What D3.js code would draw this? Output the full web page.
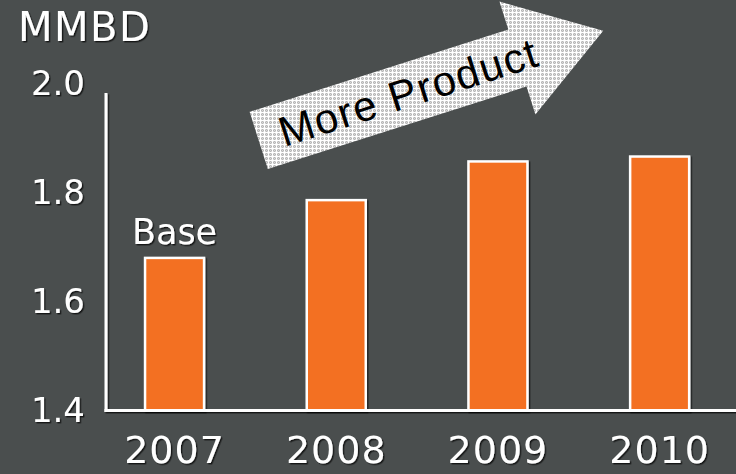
<!DOCTYPE html>
<html>
<head>
<meta charset="utf-8">
<script src="https://cdn.jsdelivr.net/npm/d3@7"></script>
<style>
  html, body { margin: 0; padding: 0; background: #4a4e4e; }
  svg { display: block; }
</style>
</head>
<body>
<script>
// Refinery output by year (million barrels per day)
const years = ["2007", "2008", "2009", "2010"];
const output = [1.68, 1.786, 1.857, 1.866];
const yTicks = [1.4, 1.6, 1.8, 2.0];
const yDomain = [1.4, 2.0];
const unitLabel = "MMBD";
const baseLabel = "Base";
const arrowLabel = "More Product";

const W = 736, H = 474;
const bg = "#4a4e4e", orange = "#f37021";
const font = "'DejaVu Sans', Verdana, sans-serif";

const svg = d3.select("body").append("svg")
  .attr("width", W).attr("height", H);

const defs = svg.append("defs");

// soft dark shadow under the white text and outlines
const sh = defs.append("filter").attr("id", "shadow")
  .attr("x", "-10%").attr("y", "-10%").attr("width", "130%").attr("height", "130%");
sh.append("feDropShadow").attr("dx", 1.4).attr("dy", 1.4)
  .attr("stdDeviation", 0.5).attr("flood-color", "#000").attr("flood-opacity", 0.7);

// halftone grid fill for the arrow
const pat = defs.append("pattern").attr("id", "grid")
  .attr("patternUnits", "userSpaceOnUse").attr("width", 4).attr("height", 4);
pat.append("rect").attr("width", 4).attr("height", 4).attr("fill", "#c8c8c8");
for (let i = 1; i < 4; i++) for (let j = 1; j < 4; j++) {
  pat.append("rect").attr("x", i).attr("y", j).attr("width", 1).attr("height", 1)
    .attr("fill", (i + j) % 2 ? "#b6b6b6" : "#d8d8d8");
}
pat.append("rect").attr("x", 0).attr("y", 0).attr("width", 4).attr("height", 1).attr("fill", "#ffffff");
pat.append("rect").attr("x", 0).attr("y", 0).attr("width", 1).attr("height", 4).attr("fill", "#ffffff");

svg.append("rect").attr("width", W).attr("height", H).attr("fill", bg);

// scales
const x = d3.scaleBand().domain(years).range([93.7, 740.5])
  .paddingInner(0.635).paddingOuter(0.3175);
const y = d3.scaleLinear().domain(yDomain).range([410.5, 83.5]);

const axisX = 106;
const baseY = y(yDomain[0]);

// unit title
svg.append("text").attr("x", 18).attr("y", 41)
  .attr("font-family", font).attr("font-size", 40).attr("letter-spacing", 1.5)
  .attr("fill", "#fff").attr("filter", "url(#shadow)").text(unitLabel);

// y-axis labels
const gy = svg.append("g").attr("transform", `translate(${axisX},0)`)
  .call(d3.axisLeft(y).tickValues(yTicks).tickFormat(d3.format(".1f"))
    .tickSize(0).tickPadding(21));
gy.select(".domain").remove();
gy.selectAll("text").attr("font-family", font).attr("font-size", 34)
  .attr("fill", "#fff").attr("filter", "url(#shadow)").attr("dy", "0.33em");

// x-axis labels
const gx = svg.append("g").attr("transform", `translate(0,${baseY})`)
  .call(d3.axisBottom(x).tickSize(0).tickPadding(26));
gx.select(".domain").remove();
gx.selectAll("text").attr("font-family", font).attr("font-size", 38)
  .attr("letter-spacing", 1).attr("fill", "#fff").attr("filter", "url(#shadow)");

// bars
svg.append("g").selectAll("rect").data(years).join("rect")
  .attr("x", d => x(d))
  .attr("y", (d, i) => y(output[i]))
  .attr("width", x.bandwidth())
  .attr("height", (d, i) => baseY - y(output[i]))
  .attr("fill", orange).attr("stroke", "#fff").attr("stroke-width", 2.5)
  .attr("filter", "url(#shadow)");

// axis lines
const axes = svg.append("g").attr("stroke", "#fff").attr("stroke-width", 3)
  .attr("filter", "url(#shadow)");
axes.append("line").attr("x1", axisX).attr("x2", axisX)
  .attr("y1", y(yDomain[1]) + 9.5).attr("y2", baseY + 1.5);
axes.append("line").attr("x1", axisX - 1.5).attr("x2", W)
  .attr("y1", baseY).attr("y2", baseY);

// "Base" label above the first bar
svg.append("text").attr("x", x(years[0]) + x.bandwidth() / 2)
  .attr("y", y(output[0]) - 14).attr("text-anchor", "middle")
  .attr("font-family", font).attr("font-size", 35).attr("fill", "#fff")
  .attr("filter", "url(#shadow)").text(baseLabel);

// trend arrow
const tail = [258.7, 140.4], ang = -17.66 * Math.PI / 180;
const u = [Math.cos(ang), Math.sin(ang)], n = [-Math.sin(ang), Math.cos(ang)];
const shaftLen = 271.5, totalLen = 361.6, shaftHalf = 30, headHalf = 59.3;
const pt = (a, b) => [tail[0] + a * u[0] + b * n[0], tail[1] + a * u[1] + b * n[1]];
const arrowPts = [
  pt(0, -shaftHalf), pt(shaftLen, -shaftHalf), pt(shaftLen, -headHalf),
  pt(totalLen, 0), pt(shaftLen, headHalf), pt(shaftLen, shaftHalf), pt(0, shaftHalf)
];
svg.append("path").attr("d", d3.line()(arrowPts) + "Z").attr("fill", "url(#grid)");

svg.append("text")
  .attr("transform", `translate(413,106) rotate(-17.7)`)
  .attr("text-anchor", "middle")
  .attr("font-family", "'Liberation Sans', Arial, sans-serif")
  .attr("font-size", 42).attr("letter-spacing", 1.5).attr("fill", "#000")
  .text(arrowLabel);
</script>
</body>
</html>
